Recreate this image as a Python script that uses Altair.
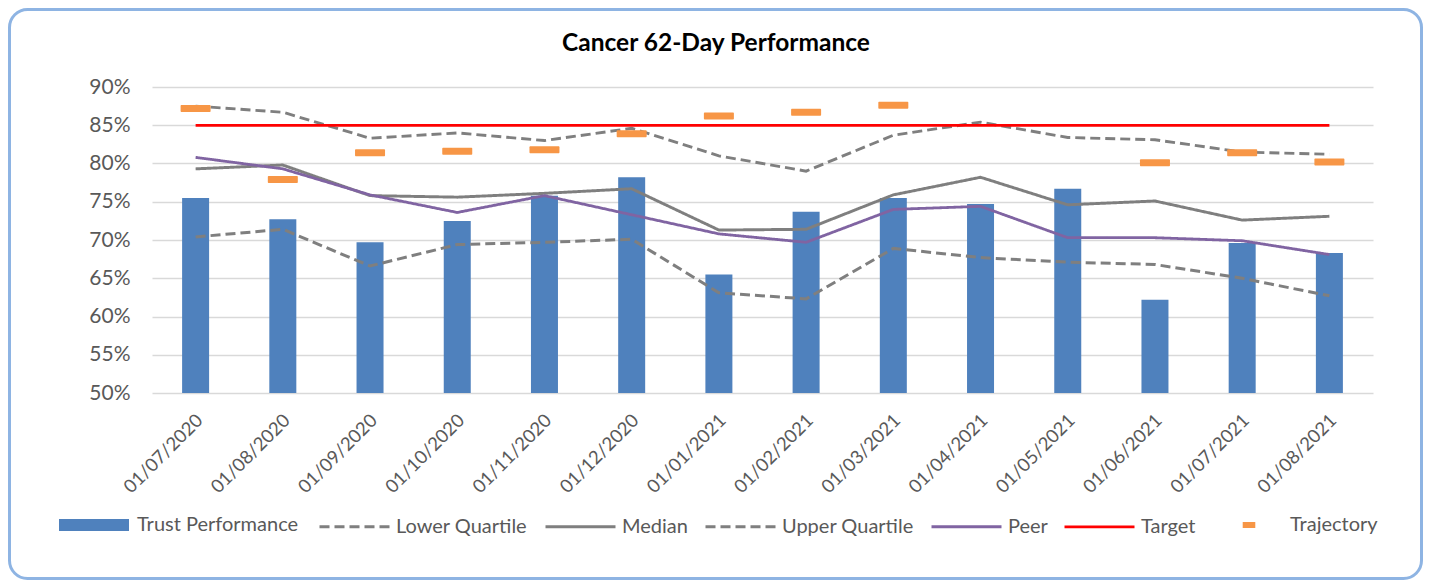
import altair as alt
import pandas as pd

# ---------------- data ----------------
months = ["01/07/2020", "01/08/2020", "01/09/2020", "01/10/2020", "01/11/2020",
          "01/12/2020", "01/01/2021", "01/02/2021", "01/03/2021", "01/04/2021",
          "01/05/2021", "01/06/2021", "01/07/2021", "01/08/2021"]

trust_performance = [75.5, 72.7, 69.7, 72.5, 75.8, 78.2, 65.5, 73.7, 75.5, 74.7, 76.7, 62.2, 69.6, 68.3]
lower_quartile = [70.4, 71.4, 66.6, 69.4, 69.7, 70.1, 63.1, 62.3, 68.9, 67.7, 67.1, 66.8, 65.0, 62.7]
median = [79.3, 79.8, 75.8, 75.6, 76.1, 76.7, 71.3, 71.4, 75.9, 78.2, 74.6, 75.1, 72.6, 73.1]
upper_quartile = [87.5, 86.7, 83.3, 84.0, 83.0, 84.6, 81.0, 79.0, 83.7, 85.4, 83.4, 83.1, 81.5, 81.2]
peer = [80.8, 79.3, 75.9, 73.6, 75.8, 73.3, 70.8, 69.7, 74.0, 74.4, 70.3, 70.3, 69.9, 68.1]
target = [85, 85, 85, 85, 85, 85, 85, 85, 85, 85, 85, 85, 85, 85]
trajectory = [87.2, 77.9, 81.4, 81.6, 81.8, 83.9, 86.2, 86.7, 87.6, None, None, 80.1, 81.4, 80.2]

y_ticks = [0.50, 0.55, 0.60, 0.65, 0.70, 0.75, 0.80, 0.85, 0.90]
title_text = "Cancer 62-Day Performance"

line_names = ["Lower Quartile", "Median", "Upper Quartile", "Peer", "Target"]
line_values = [lower_quartile, median, upper_quartile, peer, target]

# ---------------- styles ----------------
line_colors = ["#7f7f7f", "#7f7f7f", "#7f7f7f", "#8064a2", "#ff0000"]
line_dashes = [[10, 5], [1, 0], [10, 5], [1, 0], [1, 0]]
line_widths = [3, 2.75, 3, 2.75, 2.25]
FONT = "Lato"
GREY = "#595959"
W, H = 1221, 306

# ---------------- tables ----------------
bars_df = pd.DataFrame({"month": months,
                        "value": [v / 100 for v in trust_performance],
                        "series": "Trust Performance"})
lines_df = pd.concat([
    pd.DataFrame({"month": months, "value": [v / 100 for v in vals], "series": name})
    for name, vals in zip(line_names, line_values)
], ignore_index=True)
traj_df = pd.DataFrame({"month": months, "value": trajectory, "series": "Trajectory"}).dropna()
traj_df["value"] = traj_df["value"] / 100

x_enc = alt.X("month:N", sort=months, title=None,
              scale=alt.Scale(paddingInner=0, paddingOuter=0),
              axis=alt.Axis(labelAngle=-45, labelAlign="right", labelBaseline="middle",
                            labelPadding=24, labelOffset=4, ticks=False, domain=False,
                            grid=False, labelFont=FONT, labelFontSize=18.5,
                            labelColor=GREY, title=None))
y_enc = alt.Y("value:Q", title=None,
              scale=alt.Scale(domain=[0.5, 0.9], zero=False, nice=False),
              axis=alt.Axis(values=y_ticks, format=".0%", grid=True, gridColor="#d9d9d9",
                            gridWidth=1.5, ticks=False, domain=False, labelFont=FONT,
                            labelFontSize=21, labelColor=GREY, labelPadding=22, title=None))

legend_common = dict(orient="none", title=None, labelFont=FONT, labelFontSize=20,
                     labelColor=GREY, labelLimit=400, symbolSize=4900)

border = alt.Chart(alt.Data(values=[{"k": 1}])).mark_rect(
    fill="transparent", stroke="#8eb4e3", strokeWidth=3, cornerRadius=18
).encode(x=alt.value(-142.5), x2=alt.value(1269.5), y=alt.value(-77.5), y2=alt.value(491.5))

bars = alt.Chart(bars_df).mark_bar(size=27).encode(
    x=x_enc, y=y_enc, y2=alt.datum(0.5),
    color=alt.Color("series:N",
                    scale=alt.Scale(domain=["Trust Performance"], range=["#4f81bd"]),
                    legend=alt.Legend(legendX=-93, legendY=403, labelOffset=8,
                                      symbolType="M-1,-0.17H1V0.17H-1Z",
                                      symbolStrokeWidth=0, **legend_common))
)

line_legend = dict(legendX=166, legendY=403, direction="horizontal", labelOffset=5,
                   columnPadding=11, symbolType="stroke", symbolStrokeWidth=3,
                   **legend_common)
lines = alt.Chart(lines_df).mark_line().encode(
    x=x_enc, y=y_enc,
    stroke=alt.Stroke("series:N", scale=alt.Scale(domain=line_names, range=line_colors),
                      legend=alt.Legend(**line_legend)),
    strokeDash=alt.StrokeDash("series:N", scale=alt.Scale(domain=line_names, range=line_dashes),
                              legend=alt.Legend(**line_legend)),
    strokeWidth=alt.StrokeWidth("series:N", scale=alt.Scale(domain=line_names, range=line_widths),
                                legend=None),
)

traj = alt.Chart(traj_df).mark_tick(thickness=7, size=30, opacity=1, cornerRadius=1).encode(
    x=x_enc, y=y_enc,
    color=alt.Color("series:N",
                    scale=alt.Scale(domain=["Trajectory"], range=["#f79646"]),
                    legend=alt.Legend(legendX=1062, legendY=403, labelOffset=6,
                                      symbolType="M-0.18,-0.085H0.18V0.085H-0.18Z",
                                      symbolStrokeWidth=0, **legend_common))
)

title = alt.Chart(alt.Data(values=[{"t": title_text}])).mark_text(
    font=FONT, fontSize=24.5, fontWeight="bold", color="#000000",
    align="center", baseline="alphabetic"
).encode(x=alt.value(564), y=alt.value(-36), text="t:N")

chart = alt.layer(border, bars, lines, traj, title).resolve_scale(
    color="independent"
).properties(
    width=W, height=H,
    autosize=alt.AutoSizeParams(type="none"),
    padding={"left": 144, "top": 79, "right": 50, "bottom": 187},
).configure_view(stroke="transparent")

chart.save("out.html", embed_options={"renderer": "svg", "actions": False})
